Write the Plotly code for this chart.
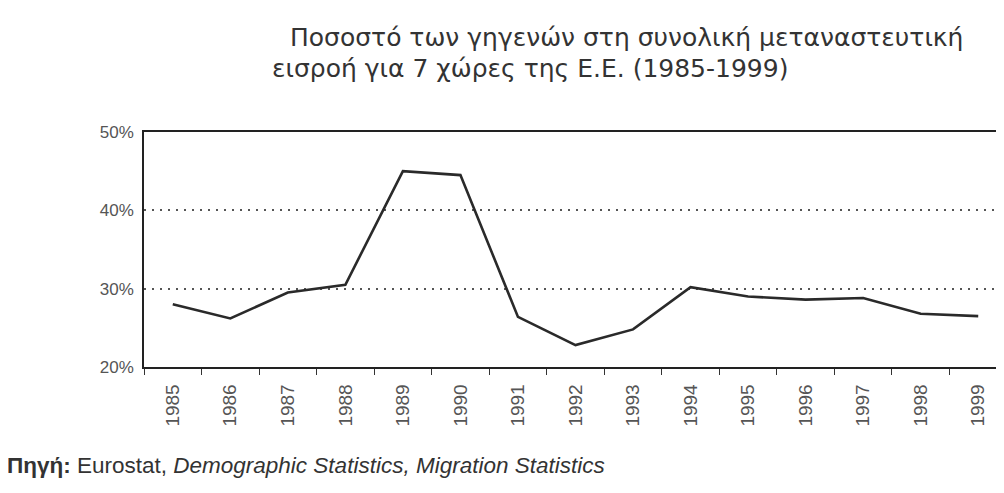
import plotly.graph_objects as go

years = [str(y) for y in range(1985, 2000)]
share = [28.0, 26.2, 29.5, 30.5, 45.0, 44.5, 26.4, 22.8, 24.8, 30.2, 29.0, 28.6, 28.8, 26.8, 26.5]
y_ticks = [20, 30, 40, 50]
y_tick_labels = ["20%", "30%", "40%", "50%"]
title_lines = ["Ποσοστό των γηγενών στη συνολική μεταναστευτική",
               "εισροή για 7 χώρες της Ε.Ε. (1985-1999)"]
source_text = "<b>Πηγή:</b> Eurostat, <i>Demographic Statistics, Migration Statistics</i>"

W, H = 1004, 493
OFF = 8  # page body margin
L, T, B, R = 144 - OFF, 132 - OFF, H - (367 - OFF), W - (1007 - OFF)
PW, PH = W - L - R, H - T - B


def px(xp):
    return (xp - OFF - L) / PW


def py(yp):
    return (H - B - (yp - OFF)) / PH


fig = go.Figure()
fig.add_trace(go.Scatter(
    x=years, y=share, mode="lines",
    line=dict(color="#2a2a2a", width=2.6),
    showlegend=False, hoverinfo="skip", cliponaxis=False))

fig.update_layout(
    width=W, height=H,
    margin=dict(l=L, r=R, t=T, b=B),
    paper_bgcolor="white", plot_bgcolor="white",
    font=dict(family="Liberation Sans, Arial, sans-serif", color="#444"),
)
fig.update_xaxes(
    type="category", range=[-0.5, len(years) - 0.5],
    showline=True, linecolor="#222", linewidth=1.5,
    mirror=True, ticks="outside", tickson="boundaries", ticklen=6,
    tickcolor="#333", tickangle=-90, showgrid=False, ticklabelstandoff=8,
    tickfont=dict(size=19, color="#555"))
fig.update_yaxes(
    range=[20, 50], tickvals=y_ticks, ticktext=y_tick_labels,
    showline=True, linecolor="#222", linewidth=1.5,
    showgrid=True, gridcolor="#555", griddash="2px,6px", gridwidth=1.8,
    zeroline=False, ticks="", ticklabelstandoff=5,
    tickfont=dict(size=17, color="#555"))

fig.add_annotation(text=title_lines[0], xref="paper", yref="paper",
                   x=px(288), y=py(37), xanchor="left", yanchor="middle",
                   showarrow=False,
                   font=dict(family="DejaVu Sans", size=25, color="#333"))
fig.add_annotation(text=title_lines[1], xref="paper", yref="paper",
                   x=px(270), y=py(68), xanchor="left", yanchor="middle",
                   showarrow=False,
                   font=dict(family="DejaVu Sans", size=25, color="#333"))
fig.add_annotation(text=source_text, xref="paper", yref="paper",
                   x=px(5), y=py(465), xanchor="left", yanchor="middle",
                   showarrow=False, font=dict(size=22.5, color="#333"))

fig.write_html("out.html")
